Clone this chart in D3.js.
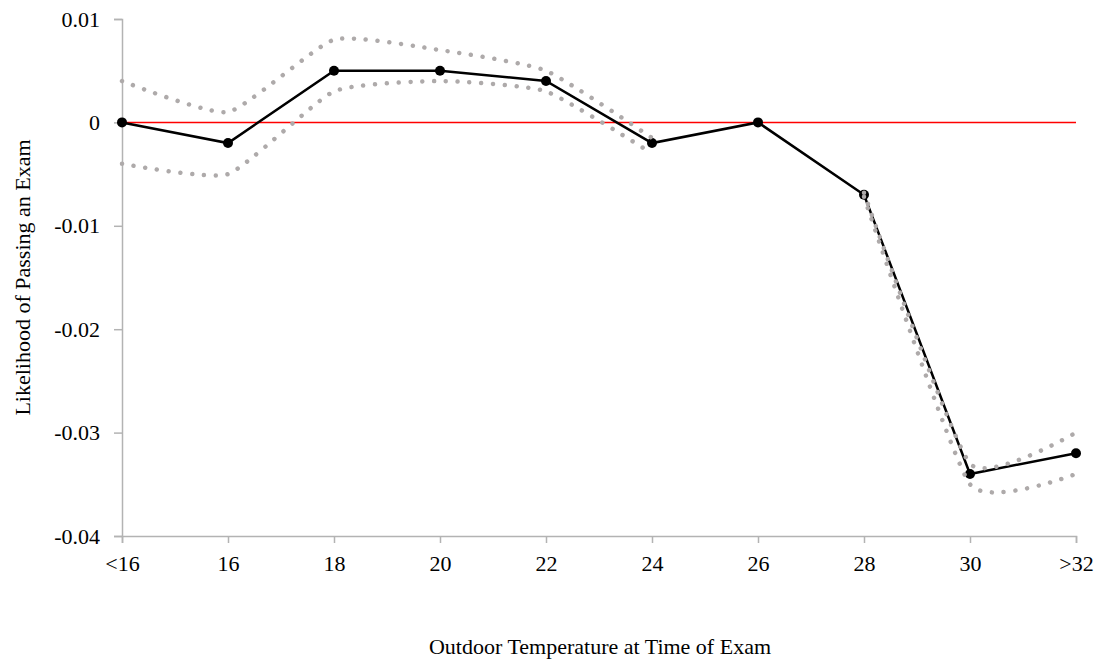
<!DOCTYPE html>
<html>
<head>
<meta charset="utf-8">
<script src="https://cdn.jsdelivr.net/npm/d3@7"></script>
<style>
  body { margin: 0; background: #fff; }
  text { font-family: "Liberation Serif", "Times New Roman", serif; fill: #000; }
</style>
</head>
<body>
<svg id="chart" width="1101" height="659"></svg>
<script>
//categories and values (null = no band at that point)
var temps = ["<16", "16", "18", "20", "22", "24", "26", "28", "30", ">32"];
var estimate = [0, -0.002, 0.005, 0.005, 0.004, -0.002, 0, -0.007, -0.034, -0.032];
var upper_ci = [0.004, 0.001, 0.008, 0.007, 0.005, -0.0015, null, -0.0068, -0.033, -0.030];
var lower_ci = [-0.004, -0.005, 0.003, 0.004, 0.003, -0.003, null, -0.0072, -0.035, -0.034];
var y_ticks = [0.01, 0, -0.01, -0.02, -0.03, -0.04];

var svg = d3.select("#chart");
var margin = {top: 19, right: 25, bottom: 123, left: 122};
var width = 1101 - margin.left - margin.right,
    height = 659 - margin.top - margin.bottom;

var g = svg.append("g")
    .attr("transform", "translate(" + margin.left + "," + margin.top + ")");

//scales
var x_scale = d3.scalePoint().domain(temps).range([0, width]).padding(0);
var y_scale = d3.scaleLinear().domain([-0.04, 0.01]).range([height, 0]);

//axes
var y_axis = d3.axisLeft(y_scale).tickValues(y_ticks).tickSizeOuter(0).tickSize(8).tickPadding(14)
    .tickFormat(function(d) { return d === 0 ? "0" : d.toFixed(2); });
var x_axis = d3.axisBottom(x_scale).tickSizeOuter(0).tickSize(7).tickPadding(12);

var gy = g.append("g").attr("class", "axis").call(y_axis);
var gx = g.append("g").attr("class", "axis").attr("transform", "translate(0," + height + ")").call(x_axis);

[gx, gy].forEach(function(a) {
    a.select(".domain").attr("stroke", "#b3b3b3").attr("stroke-width", 1.5);
    a.selectAll(".tick line").attr("stroke", "#b3b3b3").attr("stroke-width", 1.5);
    a.selectAll(".tick text").style("font-family", "Liberation Serif").style("font-size", "22px").attr("fill", "#000");
});

//zero reference line
g.append("line")
    .attr("x1", 0).attr("x2", width)
    .attr("y1", y_scale(0)).attr("y2", y_scale(0))
    .attr("stroke", "#ff0000").attr("stroke-width", 1.5);

//main estimate series
var line = d3.line()
    .x(function(d, i) { return x_scale(temps[i]); })
    .y(function(d) { return y_scale(d); });

g.append("path")
    .datum(estimate)
    .attr("d", line)
    .attr("fill", "none")
    .attr("stroke", "#000")
    .attr("stroke-width", 2.5);

g.selectAll(".marker")
    .data(estimate)
    .enter().append("circle")
    .attr("class", "marker")
    .attr("cx", function(d, i) { return x_scale(temps[i]); })
    .attr("cy", function(d) { return y_scale(d); })
    .attr("r", 5)
    .attr("fill", "#000");

//confidence bands - smoothed dotted lines, broken where there is no value
var smooth_line = d3.line()
    .defined(function(d) { return d !== null; })
    .x(function(d, i) { return x_scale(temps[i]); })
    .y(function(d) { return y_scale(d); })
    .curve(d3.curveCardinal.tension(0.5));

[upper_ci, lower_ci].forEach(function(ci) {
    g.append("path")
        .datum(ci)
        .attr("d", smooth_line)
        .attr("fill", "none")
        .attr("stroke", "#aeaaaa")
        .attr("stroke-width", 4.5)
        .attr("stroke-linecap", "round")
        .attr("stroke-dasharray", "0.01 11.8");
});

//axis titles
svg.append("text")
    .attr("transform", "translate(30," + (margin.top + height / 2) + ") rotate(-90)")
    .attr("text-anchor", "middle")
    .style("font-size", "22px")
    .text("Likelihood of Passing an Exam");

svg.append("text")
    .attr("x", 600)
    .attr("y", 654)
    .attr("text-anchor", "middle")
    .style("font-size", "22px")
    .text("Outdoor Temperature at Time of Exam");
</script>
</body>
</html>
